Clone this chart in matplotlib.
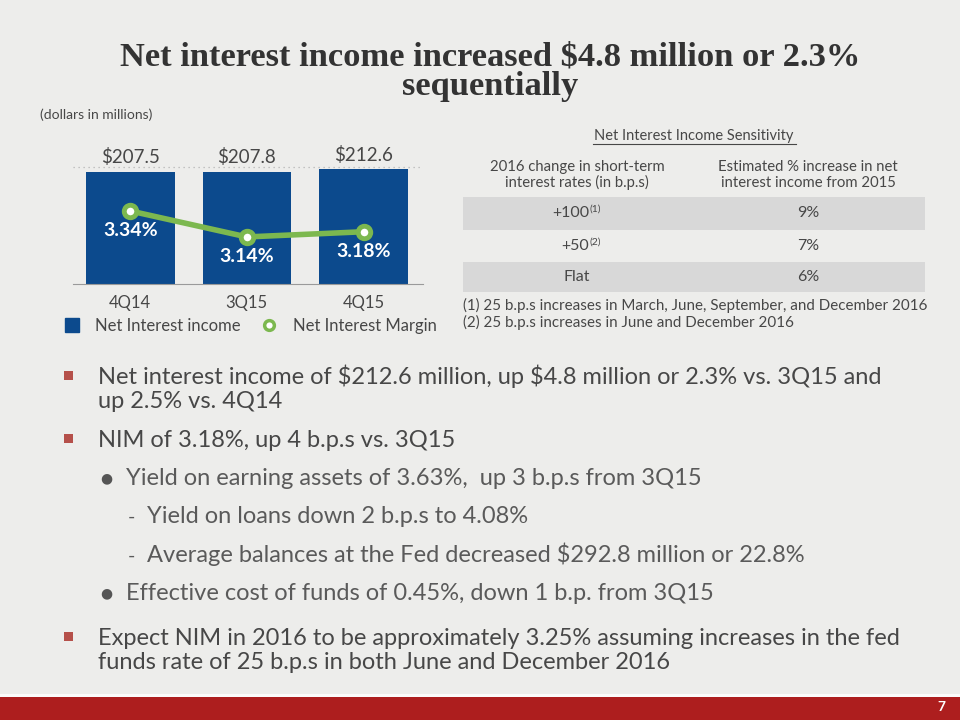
import matplotlib
matplotlib.use("Agg")
import matplotlib.pyplot as plt
from matplotlib.patches import Rectangle
from matplotlib.lines import Line2D

plt.rcParams["text.parse_math"] = False

# ---------------- data ----------------
quarters = ["4Q14", "3Q15", "4Q15"]
net_interest_income = [207.5, 207.8, 212.6]
net_interest_margin = [3.34, 3.14, 3.18]

table_title = "Net Interest Income Sensitivity"
table_headers = ["2016 change in short-term\ninterest rates (in b.p.s)",
                 "Estimated % increase in net\ninterest income from 2015"]
rate_changes = ["+100", "+50", "Flat"]
rate_notes = ["(1)", "(2)", ""]
nii_increase = ["9%", "7%", "6%"]
footnotes = ["(1) 25 b.p.s increases in March, June, September, and December 2016",
             "(2) 25 b.p.s increases in June and December 2016"]

title_lines = ["Net interest income increased $4.8 million or 2.3%", "sequentially"]
bullets = [
    (0, ["Net interest income of $212.6 million, up $4.8 million or 2.3% vs. 3Q15 and",
         "up 2.5% vs. 4Q14"]),
    (0, ["NIM of 3.18%, up 4 b.p.s vs. 3Q15"]),
    (1, ["Yield on earning assets of 3.63%,  up 3 b.p.s from 3Q15"]),
    (2, ["Yield on loans down 2 b.p.s to 4.08%"]),
    (2, ["Average balances at the Fed decreased $292.8 million or 22.8%"]),
    (1, ["Effective cost of funds of 0.45%, down 1 b.p. from 3Q15"]),
    (0, ["Expect NIM in 2016 to be approximately 3.25% assuming increases in the fed",
         "funds rate of 25 b.p.s in both June and December 2016"]),
]
bullet_baseline = [384, 447, 485, 523, 562, 600, 645]

# ---------------- style ----------------
W, H = 960, 720
BG = "#ededeb"
BLUE = "#0c4a8d"
GREEN = "#7cb84f"
TXT = "#474747"
SANS = ["Lato", "DejaVu Sans"]
plt.rcParams["font.family"] = SANS


def fx(x):
    return x / W


def fy(y):
    return 1 - y / H


fig = plt.figure(figsize=(9.6, 7.2), dpi=100, facecolor=BG)

# bottom red band
fig.patches.append(Rectangle((0, 0), 1, fy(694), transform=fig.transFigure,
                             facecolor="#fbfbfb", edgecolor="none", zorder=0))
fig.patches.append(Rectangle((0, 0), 1, fy(697), transform=fig.transFigure,
                             facecolor="#ad1e1e", edgecolor="none", zorder=1))
fig.text(fx(941), fy(707), "7", color="white", fontsize=10, fontweight="bold",
         ha="center", va="center")

# title
for k, tl in enumerate(title_lines):
    fig.text(fx(490), fy(66 + 29 * k), tl, ha="center", va="baseline",
             fontsize=24.8, fontweight="bold", family=["Liberation Serif"], color="#333333")

fig.text(fx(40), fy(115), "(dollars in millions)", fontsize=10, color=TXT,
         ha="left", va="center")

# ---------------- chart ----------------
ax = fig.add_axes([fx(73), fy(284), fx(350), 117 / H])
ax.set_facecolor("none")
x = list(range(len(quarters)))
bars = ax.bar(x, net_interest_income, width=0.76, color=BLUE, zorder=2,
              label="Net Interest income")
ax.set_xlim(-0.49, 2.51)
ax.set_ylim(0, 216.7)
for s in ["left", "right", "top"]:
    ax.spines[s].set_visible(False)
ax.spines["bottom"].set_color("#9a9a9a")
ax.spines["bottom"].set_linewidth(0.8)
ax.axhline(216.7, color="#b5b5b5", lw=0.9, ls=(0, (1, 3)), clip_on=False, zorder=1)
ax.set_yticks([])
ax.set_xticks(x)
ax.set_xticklabels(quarters, fontsize=12, color=TXT)
ax.tick_params(axis="x", length=0, pad=8)
for xi, v in zip(x, net_interest_income):
    ax.annotate(f"${v:.1f}", (xi, v), xytext=(0, 4), textcoords="offset points",
                ha="center", va="bottom", fontsize=13.5, color=TXT)

ax2 = ax.twinx()
ax2.set_ylim(2.778, 3.678)
ax2.set_yticks([])
for s in ["left", "right", "top", "bottom"]:
    ax2.spines[s].set_visible(False)
line, = ax2.plot(x, net_interest_margin, color=GREEN, lw=4, marker="o", ms=9,
                 mfc="white", mec=GREEN, mew=3.5, zorder=3, label="Net Interest Margin")
for xi, v in zip(x, net_interest_margin):
    ax2.annotate(f"{v:.2f}%", (xi, v), xytext=(0, -8), textcoords="offset points",
                 ha="center", va="top", fontsize=14, color="white", fontweight="bold")

leg_handles = [Line2D([], [], marker="s", color="none", mfc=BLUE, mec=BLUE, ms=10),
               Line2D([], [], marker="o", color="none", mfc="white", mec=GREEN, ms=7, mew=2.5)]
fig.legend(leg_handles, ["Net Interest income", "Net Interest Margin"],
           loc="center left", bbox_to_anchor=(fx(62), fy(326)), ncol=2, frameon=False,
           fontsize=12, labelcolor=TXT, handlelength=1.2, handletextpad=0.8,
           columnspacing=1.1, borderaxespad=0, borderpad=0)

# ---------------- table ----------------
tcx1, tcx2 = 577, 808
fig.text(fx(694), fy(136), table_title, ha="center", va="center", fontsize=10.5, color=TXT)
fig.add_artist(Line2D([fx(593), fx(796)], [fy(144), fy(144)], transform=fig.transFigure,
                      color=TXT, lw=0.8))
fig.text(fx(tcx1), fy(175), table_headers[0], ha="center", va="center", fontsize=10.7,
         color=TXT, linespacing=1.1)
fig.text(fx(tcx2), fy(175), table_headers[1], ha="center", va="center", fontsize=10.7,
         color=TXT, linespacing=1.1)
row_top = [197, 230, 262]
row_bot = [230, 262, 292]
for i, (rc, note, val) in enumerate(zip(rate_changes, rate_notes, nii_increase)):
    if i % 2 == 0:
        fig.patches.append(Rectangle((fx(463), fy(row_bot[i])), fx(925 - 463),
                                     (row_bot[i] - row_top[i]) / H, transform=fig.transFigure,
                                     facecolor="#d8d8d8", edgecolor="none", zorder=0.5))
    yc = (row_top[i] + row_bot[i]) / 2
    if note:
        fig.text(fx(589), fy(yc), rc, ha="right", va="center", fontsize=11.5, color=TXT)
        fig.text(fx(589), fy(yc - 4), note, ha="left", va="center", fontsize=7.5, color=TXT)
    else:
        fig.text(fx(tcx1), fy(yc), rc, ha="center", va="center", fontsize=11.5, color=TXT)
    fig.text(fx(tcx2), fy(yc), val, ha="center", va="center", fontsize=11.5, color=TXT)
for j, fn in enumerate(footnotes):
    fig.text(fx(463), fy(305 + 17 * j), fn, ha="left", va="center", fontsize=10.9, color=TXT)

# ---------------- bullets ----------------
for (lvl, lines), yb in zip(bullets, bullet_baseline):
    if lvl == 0:
        fig.patches.append(Rectangle((fx(64), fy(yb - 4)), fx(9), 9 / H,
                                     transform=fig.transFigure, facecolor="#b5504a",
                                     edgecolor="none"))
        tx, col = 98, "#474747"
    elif lvl == 1:
        fig.text(fx(106), fy(yb - 7), "\u25CF", ha="center", va="center", fontsize=10,
                 color="#555555", family=["DejaVu Sans"])
        tx, col = 126, "#5a5a5a"
    else:
        fig.text(fx(131), fy(yb - 6), "-", ha="center", va="center", fontsize=14,
                 color="#5a5a5a")
        tx, col = 147, "#5a5a5a"
    for k, ln in enumerate(lines):
        fig.text(fx(tx), fy(yb + 24 * k), ln, ha="left", va="baseline", fontsize=17,
                 color=col)

fig.savefig("out.png", dpi=100, facecolor=BG)
